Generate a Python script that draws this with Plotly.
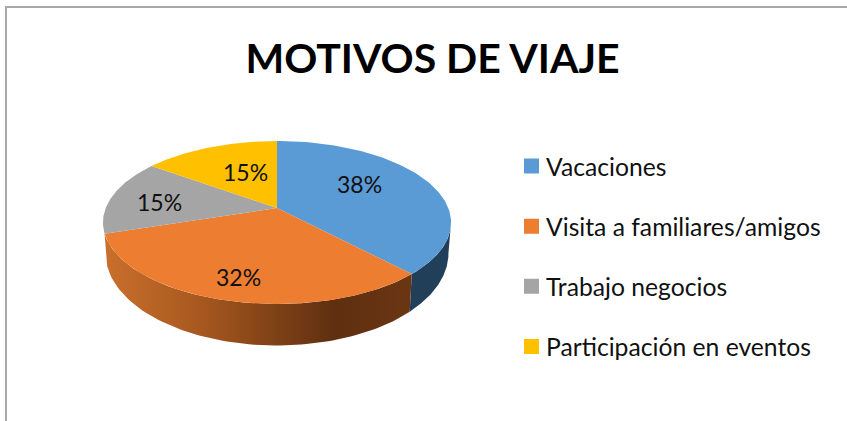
import numpy as np
import plotly.graph_objects as go

categories = ["Vacaciones", "Visita a familiares/amigos", "Trabajo negocios", "Participación en eventos"]
values = [38, 32, 15, 15]
labels = ["38%", "32%", "15%", "15%"]
colors = ["#5B9BD5", "#ED7D31", "#A5A5A5", "#FFC000"]
title_text = "MOTIVOS DE VIAJE"

W, H = 847, 421
CX, CY = 277, 208      # apex of the slices
A, B, P = 78.9, 171.3, 0.178   # perspective ellipse
LOW_DX, LOW_DY, LOW_SY = 0.985, 29, 1.13


def rim(theta_deg):
    t = np.radians(theta_deg)
    u, v = np.sin(t), np.cos(t)
    s = 1 / (1 + P * v)
    return B * u * s, -A * v * s


def top_pt(th):
    dx, dy = rim(th)
    return CX + dx, CY + dy


def low_pt(th):
    dx, dy = rim(th)
    return CX + LOW_DX * dx, CY + LOW_DY + LOW_SY * dy


shares = np.array(values) / sum(values) * 360
edges = np.concatenate([[0], np.cumsum(shares)])

fig = go.Figure()

# sides
SIDE_START = 100
side_spans = [(SIDE_START, edges[1], "#223F5A"), (edges[1], edges[2], None)]
for a0, a1, col in side_spans:
    th = np.linspace(a0, a1, 80)
    xt, yt = top_pt(th)
    xl, yl = low_pt(th[::-1])
    kw = dict(fillcolor=col) if col else dict(
        fillgradient=dict(type="horizontal", colorscale=[
            [0, "#C96F2C"], [0.3, "#A9591F"], [0.75, "#5F2F10"], [1, "#6B3613"]]))
    fig.add_trace(go.Scatter(x=np.r_[xt, xl], y=np.r_[yt, yl], mode="lines", fill="toself",
                             line=dict(width=0), showlegend=False, hoverinfo="skip", **kw))

# top slices
for i, (cat, col) in enumerate(zip(categories, colors)):
    th = np.linspace(edges[i], edges[i + 1], 100)
    x, y = top_pt(th)
    fig.add_trace(go.Scatter(x=np.r_[CX, x, CX], y=np.r_[CY, y, CY], mode="lines", fill="toself",
                             fillcolor=col, line=dict(width=0), showlegend=False,
                             name=cat, hoverinfo="name"))

# legend entries
for i, (cat, col) in enumerate(zip(categories, colors)):
    fig.add_trace(go.Scatter(x=[None], y=[None], mode="markers", name=cat, legendgroup=cat,
                             marker=dict(symbol="square", size=15, color=col, angle=90, standoff=5.5)))

# data labels
label_pos = [(359, 184), (238, 277), (159, 202), (245, 172)]
for text, (lx, ly) in zip(labels, label_pos):
    fig.add_annotation(x=lx, y=ly, text=text, showarrow=False,
                       font=dict(family="Lato", size=23, color="#111111"))

frame = "#A8A8A8"
fig.update_layout(
    width=W, height=H, margin=dict(l=0, r=0, t=0, b=0),
    paper_bgcolor="white", plot_bgcolor="white",
    xaxis=dict(range=[0, W], visible=False, fixedrange=True),
    yaxis=dict(range=[H, 0], visible=False, fixedrange=True),
    title=dict(text=title_text, x=432.5 / W, xanchor="center", y=1 - 59 / H, yanchor="middle",
               font=dict(family="Lato", size=41, color="#000000", weight="bold")),
    legend=dict(x=506 / W, xanchor="left", y=1 - 143.5 / H, yanchor="top", tracegroupgap=25,
                font=dict(family="Lato", size=24.7, color="#111111"), bgcolor="rgba(0,0,0,0)",
                itemclick=False, itemdoubleclick=False),
    shapes=[
        dict(type="line", xref="x", yref="y", x0=6, x1=W, y0=7, y1=7, line=dict(color=frame, width=2)),
        dict(type="line", xref="x", yref="y", x0=6, x1=6, y0=6, y1=H, line=dict(color=frame, width=2)),
    ],
)
fig.write_html("out.html", config={"displayModeBar": False},
               post_script="document.body.style.margin='0';document.documentElement.style.overflow='hidden';")
